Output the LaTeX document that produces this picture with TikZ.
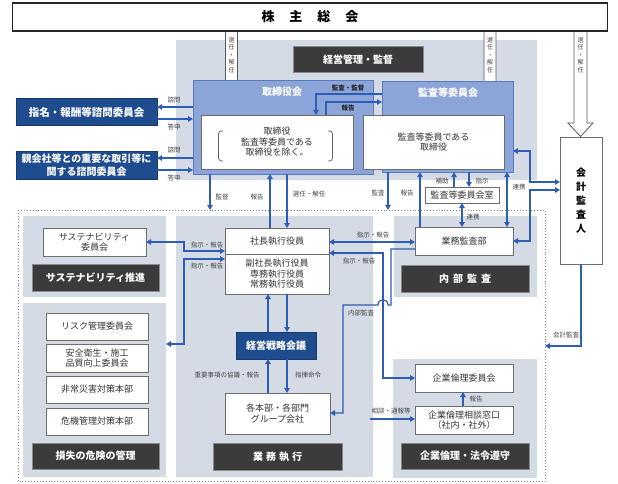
\documentclass[tikz,border=0pt]{standalone}
\usepackage{fontspec}
\setmainfont{Noto Sans CJK JP}
\usetikzlibrary{arrows.meta}
\definecolor{panel}{HTML}{D5DBE5}
\definecolor{bluem}{HTML}{8CA5D8}
\definecolor{blued}{HTML}{5A7AC0}
\definecolor{navy}{HTML}{1F4C8F}
\definecolor{navyd}{HTML}{163A6E}
\definecolor{darkb}{HTML}{3B3B3B}
\definecolor{dkborder}{HTML}{8A8A8A}
\definecolor{bordg}{HTML}{6E6E6E}
\definecolor{txtg}{HTML}{333333}
\definecolor{lblg}{HTML}{444444}
\definecolor{arrb}{HTML}{2D5DB5}
\newcommand{\boxat}[7]{\node[#1, minimum width={#5-#3}, minimum height={#6-#4}] (#2) at ({(#3+#5)/2},{(#4+#6)/2}) {#7};}
\tikzset{
  wbox/.style={draw=bordg, fill=white, line width=0.9pt, align=center, text=txtg, font=\fontsize{9}{10.5}\selectfont, inner sep=0pt, outer sep=0pt},
  dbox/.style={draw=dkborder, fill=darkb, line width=1pt, text=white, font=\bfseries\fontsize{10}{12}\selectfont, inner sep=0pt, outer sep=0pt},
  nbox/.style={draw=navyd, fill=navy, line width=1pt, text=white, align=center, font=\bfseries\fontsize{10}{12.5}\selectfont, inner sep=0pt, outer sep=0pt},
  bbox/.style={draw=blued, fill=bluem, line width=1pt, inner sep=0pt, outer sep=0pt},
  pnl/.style={fill=panel, draw=none, inner sep=0pt, outer sep=0pt},
  arr/.style={draw=arrb, line width=1.2pt, -{Triangle[length=5pt,width=5.5pt]}},
  darr/.style={draw=arrb, line width=1.2pt, {Triangle[length=5pt,width=5.5pt]}-{Triangle[length=5pt,width=5.5pt]}},
  lbl/.style={font=\fontsize{6.5}{7}\selectfont, text=lblg, inner sep=0pt},
  blbl/.style={font=\bfseries\fontsize{6.5}{7}\selectfont, text=black!85, inner sep=0pt},
  vlbl/.style={font=\fontsize{6}{7.5}\selectfont, text=lblg, inner sep=0pt, align=center},
  hollow/.style={draw=black!65, fill=white, line width=0.8pt},
  ttl/.style={font=\bfseries\fontsize{10}{12}\selectfont, text=white, inner sep=0pt},
  vbold/.style={font=\bfseries\fontsize{10}{14}\selectfont, text=black},
}
\begin{document}
\begin{tikzpicture}[x=1pt,y=-1pt]
\useasboundingbox[fill=white] (0,0) rectangle (618,484);

% panels
\boxat{pnl}{topP}{176}{40}{537}{180}{}
\boxat{pnl}{P1}{23}{216}{166}{297}{}
\boxat{pnl}{P2}{23}{303}{166}{477}{}
\boxat{pnl}{P3}{176}{216}{373}{477}{}
\boxat{pnl}{P4}{394}{216}{537}{297}{}
\boxat{pnl}{P5}{393}{359}{537}{478}{}

% dotted frame
\coordinate (dTL) at (18,210);
\coordinate (dBR) at (545,481);
\draw[dotted, line width=0.9pt, black!50] (dTL) rectangle (dBR);

% hollow arrows from shareholders meeting
\draw[hollow] (225.5,31) -- (225.5,101) -- (218.5,101) -- (231.5,114) -- (244.5,101) -- (237.5,101) -- (237.5,31);
\draw[hollow] (484,31) -- (484,103) -- (477,103) -- (490,115) -- (503,103) -- (496,103) -- (496,31);
\draw[hollow] (574,31) -- (574,123) -- (568,123) -- (580.5,136.5) -- (593,123) -- (587,123) -- (587,31);
\node[vlbl] (v1) at (231.5,55) {選\\任\\・\\解\\任};
\node[vlbl] (v2) at (490,55) {選\\任\\・\\解\\任};
\node[vlbl] (v3) at (580.5,55) {選\\任\\・\\解\\任};

% shareholders meeting
\node[draw=black!85, fill=white, line width=1.1pt, minimum width=595, minimum height=28, inner sep=0pt, outer sep=0pt, font=\bfseries\fontsize{13}{14}\selectfont] (kabu) at (310,17) {株\hspace{15pt}主\hspace{15pt}総\hspace{15pt}会};

\boxat{dbox}{keiei}{293}{47}{423}{73}{経営管理・監督}

% board
\boxat{bbox}{tori}{193}{81}{373}{174}{}
\node[ttl] (toriT) at (282,92) {取締役会};
\boxat{bbox}{kansa}{382}{82}{513}{172}{}
\node[ttl] (kansaT) at (448,93) {監査等委員会};
\boxat{wbox}{toriw}{201}{115}{353}{169}{取締役\\監査等委員である\\取締役を除く。}
\boxat{wbox}{kansaw}{363}{115}{504}{169}{監査等委員である\\取締役}
\draw[black!60, line width=0.8pt, rounded corners=3pt] (223,131) -- (218.5,131) -- (218.5,161) -- (223,161);
\draw[black!60, line width=0.8pt, rounded corners=3pt] (328,131) -- (332.5,131) -- (332.5,161) -- (328,161);

% advisory committees
\boxat{nbox}{shimei}{16}{99}{157}{126}{\fontsize{10.5}{12}\selectfont 指名・報酬等諮問委員会}
\boxat{nbox}{oya}{16}{151}{157}{179}{親会社等との重要な取引等に\\関する諮問委員会}

% accounting auditor
\boxat{wbox, vbold}{kaikei}{560}{137}{602}{264}{会\\計\\監\\査\\人}
\boxat{wbox}{shitsu}{425}{187}{499}{203}{監査等委員会室}

% left panels
\boxat{wbox}{sus}{43}{228}{146}{256}{サステナビリティ\\委員会}
\boxat{dbox}{susD}{32}{264}{159}{291}{サステナビリティ推進}
\boxat{wbox}{risk}{46}{313}{148}{340}{リスク管理委員会}
\boxat{wbox}{anzen}{46}{344}{148}{372}{安全衛生・施工\\品質向上委員会}
\boxat{wbox}{hijo}{46}{376}{148}{403}{非常災害対策本部}
\boxat{wbox}{kiki}{46}{408}{148}{435}{危機管理対策本部}
\boxat{dbox}{sonD}{32}{443}{159}{469}{損失の危険の管理}

% execution
\boxat{wbox}{shacho}{225}{228}{329}{254}{社長執行役員}
\boxat{wbox}{fuku}{225}{254}{329}{294}{副社長執行役員\\専務執行役員\\常務執行役員}
\boxat{nbox}{senryaku}{236}{332}{316}{359}{経営戦略会議}
\boxat{wbox}{kaku}{225}{393}{330}{434}{各本部・各部門\\グループ会社}
\boxat{dbox}{gyoD}{213}{443}{342}{470}{業\hspace{3pt}務\hspace{3pt}執\hspace{3pt}行}

% internal audit / ethics
\boxat{wbox}{gyomu}{415}{227}{513}{255}{業務監査部}
\boxat{dbox}{naiD}{401}{265}{529}{292}{内\hspace{4pt}部\hspace{4pt}監\hspace{4pt}査}
\boxat{wbox}{rinri}{415}{364}{513}{392}{企業倫理委員会}
\boxat{wbox}{soudan}{415}{406}{513}{434}{企業倫理相談窓口\\（社内・社外）}
\boxat{dbox}{rinD}{401}{443}{529}{469}{企業倫理・法令遵守}

% ---- connectors ----
\draw[arr] (kansa.west |- 0,94) -| (316,0 |- toriw.north);
\draw[arr] (326,0 |- toriw.north) |- (kansa.west |- 0,102);
\node[blbl] (l1) at (348,88) {監査・監督};
\node[blbl] (l2) at (348,108) {報告};

\draw[arr] (tori.west |- 0,107) -- (shimei.east |- 0,107);
\draw[arr] (shimei.east |- 0,119) -- (tori.west |- 0,119);
\draw[arr] (tori.west |- 0,158) -- (oya.east |- 0,158);
\draw[arr] (oya.east |- 0,170) -- (tori.west |- 0,170);
\node[lbl] (l3) at (174,100) {諮問};
\node[lbl] (l4) at (174,127) {答申};
\node[lbl] (l5) at (174,150) {諮問};
\node[lbl] (l6) at (174,178) {答申};

\draw[arr] (210,0 |- tori.south) -- (210,0 |- dTL);
\draw[arr] (270,0 |- shacho.north) -- (270,0 |- tori.south);
\draw[arr] (287,0 |- tori.south) -- (287,0 |- shacho.north);
\draw[arr] (388,0 |- kansa.south) -- (388,0 |- dTL);
\draw[arr] (420,0 |- gyomu.north) -- (420,0 |- kansa.south);
\node[lbl] (l7) at (222,197) {監督};
\node[lbl] (l8) at (257,197) {報告};
\node[lbl] (l9) at (309,194) {選任・解任};
\node[lbl] (l10) at (378,193) {監査};
\node[lbl] (l11) at (407,193) {報告};

\draw[arr] (454,0 |- shitsu.north) -- (454,0 |- kansa.south);
\draw[arr] (469,0 |- kansa.south) -- (469,0 |- shitsu.north);
\draw[darr] (462,0 |- shitsu.south) -- (462,0 |- gyomu.north);
\draw[darr] (507,0 |- kansa.south) -- (507,0 |- gyomu.north);
\node[lbl] (l12) at (442,181) {補助};
\node[lbl] (l13) at (482,181) {指示};
\node[lbl] (l14) at (473,217) {連携};

\draw[darr] (kansa.east |- 0,151) -- (530,151) |- (kaikei.west |- 0,182);
\draw[darr] (gyomu.east |- 0,241) -- (530,241) |- (kaikei.west |- 0,190);
\node[lbl] (l15) at (519,187) {連携};

\draw[arr] (kaikei.south) |- (dBR |- 0,346);
\node[lbl] (l16) at (566,335) {会計監査};

\draw[darr] (sus.east |- 0,242) -- (184,242) |- (shacho.west |- 0,251);
\draw[darr] (P2.east |- 0,344) -- (184,344) |- (fuku.west |- 0,259);
\node[lbl] (l17) at (207,245) {指示・報告};
\node[lbl] (l18) at (207,266) {指示・報告};

\draw[darr] (shacho.east |- 0,242) -- (gyomu.west |- 0,242);
\node[lbl] (l19) at (373,235) {指示・報告};
\draw[darr] (shacho.east |- 0,253) -- (383,253) -- (383,0 |- rinri.west) -- (rinri.west);
\node[lbl] (l20) at (359,261) {指示・報告};

\draw[arr] (gyomu.west |- 0,249) -- (391,249) -- (391,305) -- (388,305) .. controls (388,298) and (378,298) .. (378,305) -- (343,305) -- (343,413) -- (kaku.east |- 0,413);
\node[lbl] (l21) at (361,313) {内部監査};

\draw[arr] (268,0 |- senryaku.north) -- (268,0 |- fuku.south);
\draw[arr] (287,0 |- fuku.south) -- (287,0 |- senryaku.north);
\draw[arr] (268,0 |- kaku.north) -- (268,0 |- senryaku.south);
\draw[arr] (287,0 |- senryaku.south) -- (287,0 |- kaku.north);
\node[lbl] (l22) at (227,375) {重要事項の協議・報告};
\node[lbl] (l23) at (308,375) {指揮命令};

\draw[arr] (463,0 |- soudan.north) -- (463,0 |- rinri.south);
\node[lbl] (l24) at (476,399) {報告};
\coordinate (sst) at (370,419);
\draw[arr] (sst) -- (soudan.west |- sst);
\node[lbl] (l25) at (391,411) {相談・通報等};
\end{tikzpicture}
\end{document}
